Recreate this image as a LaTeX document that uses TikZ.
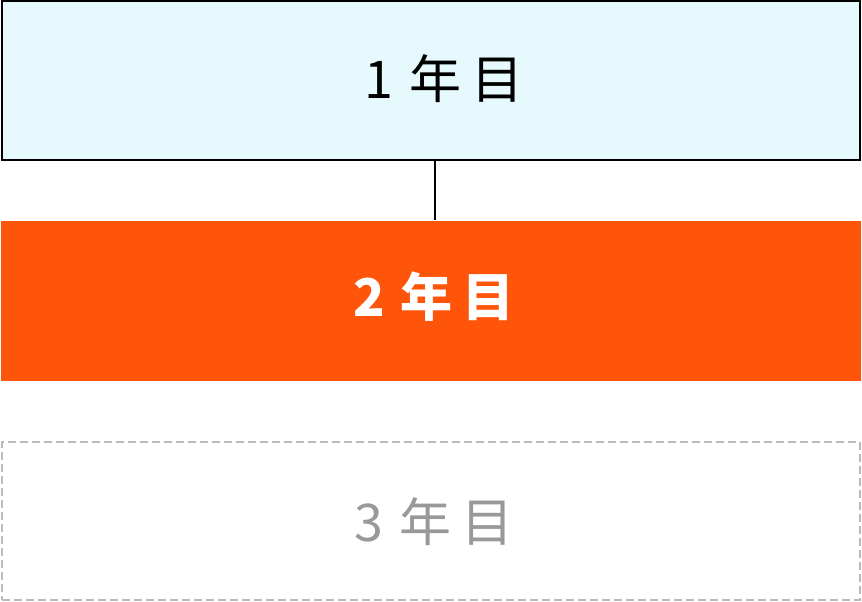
\documentclass[tikz,border=0pt]{standalone}
\usepackage{fontspec}
\setmainfont{Noto Sans CJK JP}[Numbers=Monospaced]
\usepackage{tikz}
\usetikzlibrary{positioning}
\definecolor{yearone}{HTML}{E6FAFE}
\definecolor{yeartwo}{HTML}{FF550B}
\definecolor{yearthree}{HTML}{BBBBBB}
\definecolor{yeartext}{HTML}{999999}
\newcommand{\yearname}[1]{#1\kern16pt 年\kern10pt 目}
\tikzset{
	yearbox/.style={minimum width=858pt, minimum height=158pt, inner sep=0pt},
	yearlabel/.style={inner sep=0pt, font=\fontsize{52}{52}\selectfont},
}
\begin{document}
\begin{tikzpicture}[x=1pt,y=-1pt]
	\useasboundingbox (0,0) rectangle (862,602);
	\node[yearbox, draw=black, line width=2pt, fill=yearone] (one) at (431,80.5) {};
	\node[yearbox, fill=yeartwo, minimum width=860pt, minimum height=160pt] (two) at (431,300.5) {};
	\node[yearbox, draw=yearthree, line width=1.5pt, dash pattern=on 8pt off 4pt] (three) at (431,521) {};
	% labels
	\node[yearlabel] (onetext) at (444,79) {\yearname{1}};
	\node[yearlabel, text=white, font=\fontsize{52}{52}\selectfont\bfseries] (twotext) at (434,297) {\yearname{2}};
	\node[yearlabel, text=yeartext] (threetext) at (434,522) {\yearname{3}};
	\draw[line width=1.5pt] (one.south -| 435,0) -- (two.north -| 435,0);
\end{tikzpicture}
\end{document}
